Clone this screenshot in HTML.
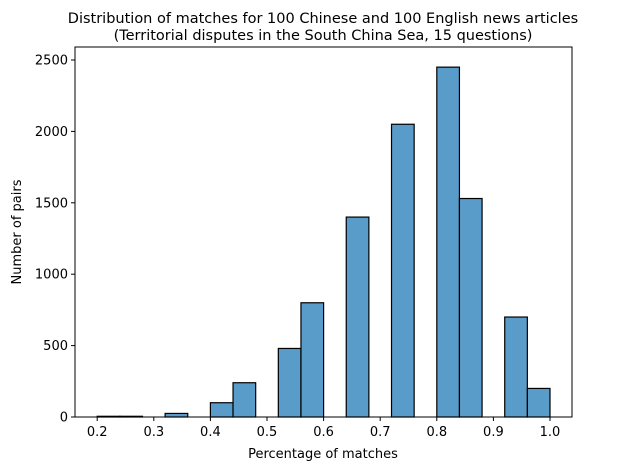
<!DOCTYPE html>
<html><head><meta charset="utf-8"><style>
body{margin:0;background:#fff}
svg text{font-family:"DejaVu Sans","Liberation Sans",sans-serif;fill:#000}
</style></head><body>
<svg id="chart" width="629" height="470" xmlns="http://www.w3.org/2000/svg">
<text x="323" y="23" font-size="14.5" text-anchor="middle">Distribution of matches for 100 Chinese and 100 English news articles</text>
<text x="323" y="40" font-size="14.5" text-anchor="middle">(Territorial disputes in the South China Sea, 15 questions)</text>
<g id="bars"></g>
<g id="axes"></g>
<text x="323" y="458" font-size="13" text-anchor="middle">Percentage of matches</text>
<text transform="translate(21,232) rotate(-90)" font-size="13" text-anchor="middle">Number of pairs</text>
</svg>
<script>
const binStarts=[0.20,0.24,0.32,0.40,0.44,0.52,0.56,0.64,0.72,0.80,0.84,0.92,0.96];
const counts=[5,5,25,100,240,480,800,1400,2050,2450,1530,700,200];
const binWidth=0.04;
const xTicks=[0.2,0.3,0.4,0.5,0.6,0.7,0.8,0.9,1.0];
const xTickLabels=["0.2","0.3","0.4","0.5","0.6","0.7","0.8","0.9","1.0"];
const yTicks=[0,500,1000,1500,2000,2500];
const yTickLabels=["0","500","1000","1500","2000","2500"];
const L=75,R=572,T=47,B=417;
const x=v=>97.2+(v-0.2)*566;
const y=v=>417-v*(357/2500);
const NS="http://www.w3.org/2000/svg";
const mk=(t,a,p)=>{const e=document.createElementNS(NS,t);for(const k in a)e.setAttribute(k,a[k]);p.appendChild(e);return e;};
const bars=document.getElementById('bars'),axes=document.getElementById('axes');
binStarts.forEach((s,i)=>{
  const r=mk('rect',{x:x(s),y:y(counts[i]),width:x(s+binWidth)-x(s),height:y(0)-y(counts[i]),fill:'#5499c7','fill-opacity':'0.97',stroke:'#000','stroke-width':'1.2'},bars);
  
  
});
const frame=mk('rect',{x:L,y:T,width:R-L,height:B-T,fill:'none',stroke:'#000','stroke-width':'1'},axes);


xTicks.forEach((v,i)=>{
  mk('line',{x1:x(v),x2:x(v),y1:B,y2:B+4,stroke:'#000'},axes);
  const t=mk('text',{x:x(v),y:B+19,'font-size':'13','text-anchor':'middle'},axes);
  t.textContent=xTickLabels[i];
  
  
});
yTicks.forEach((v,i)=>{
  mk('line',{x1:L-4,x2:L,y1:y(v),y2:y(v),stroke:'#000'},axes);
  const t=mk('text',{x:L-7,y:y(v)+4.5,'font-size':'13','text-anchor':'end'},axes);
  t.textContent=yTickLabels[i];
  
  
});
</script>
</body></html>
